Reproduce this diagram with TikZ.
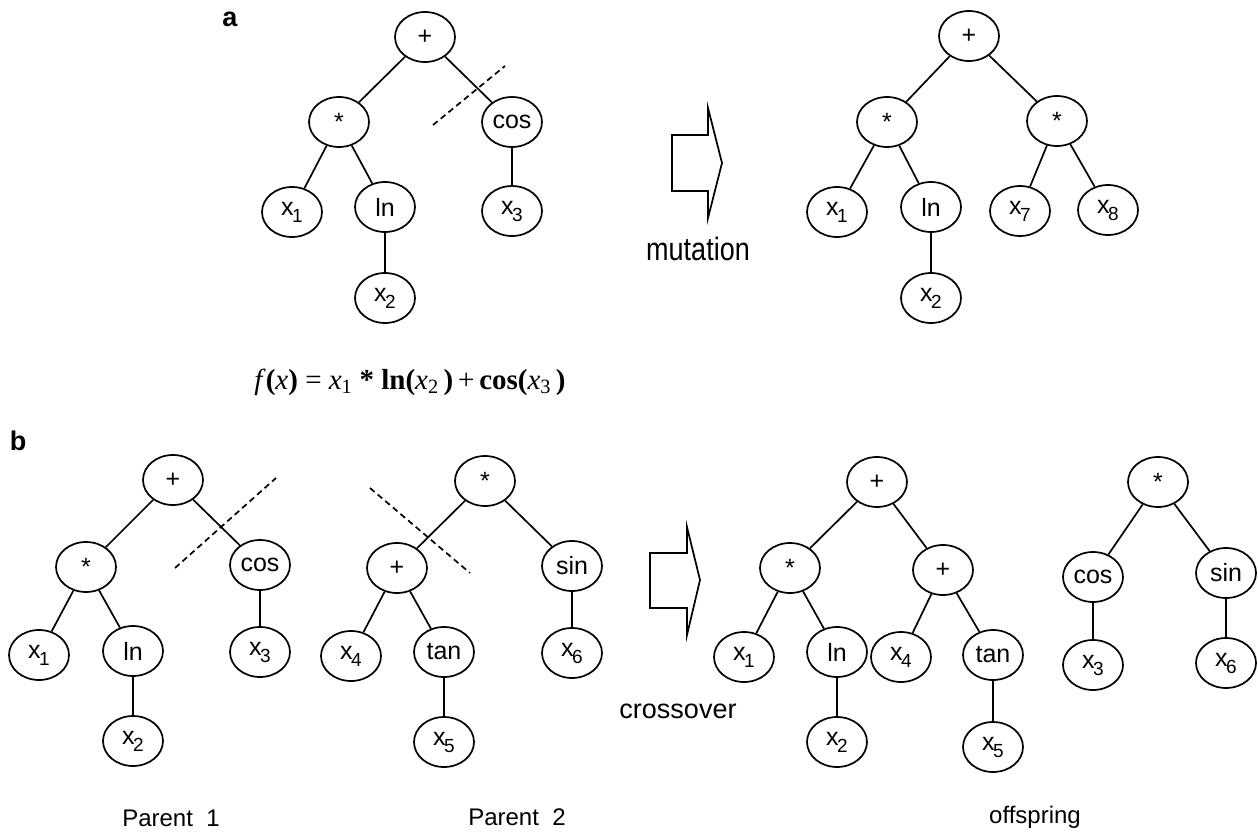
\documentclass[tikz,border=0pt]{standalone}
\usepackage{fontspec}
\setmainfont{Liberation Sans}
\newfontfamily\seriffont{Liberation Serif}
\usetikzlibrary{shapes.geometric}
\newcommand{\xs}[1]{x\kern-1.5pt\raisebox{-7pt}{\fontsize{19}{19}\selectfont #1}}
\tikzset{
  tn/.style={ellipse, draw, line width=1.7pt, minimum width=60pt, minimum height=50pt, inner sep=0pt, font=\fontsize{25}{28}\selectfont},
  ed/.style={line width=1.7pt},
  cut/.style={line width=1.7pt, dash pattern=on 6pt off 4pt},
  bigarrow/.style={line width=1.7pt, line join=miter},
  lbl/.style={font=\fontsize{24}{28}\selectfont, anchor=base},
  panel/.style={font=\fontsize{27}{30}\selectfont\bfseries},
  op/.style={font=\fontsize{27}{30}\selectfont}
}
\begin{document}
\begin{tikzpicture}[x=1pt,y=-1pt]
\useasboundingbox[fill=white] (0,0) rectangle (1258,832);

% ---------- panel a ----------
\node[panel] (la) at (230,19) {a};
% tree 1
\node[tn] (a1p) at (425,37) {+};
\node[tn] (a1m) at (339,122) {*};
\node[tn] (a1c) at (512,122) {cos};
\node[tn] (a1x1) at (292,212) {\xs{1}};
\node[tn] (a1ln) at (385,207) {ln};
\node[tn] (a1x3) at (512,211) {\xs{3}};
\node[tn] (a1x2) at (385,298) {\xs{2}};
\draw[ed] (a1p) -- (a1m);
\draw[ed] (a1p) -- (a1c);
\draw[ed] (a1m) -- (a1x1);
\draw[ed] (a1m) -- (a1ln);
\draw[ed] (a1ln) -- (a1x2);
\draw[ed] (a1c) -- (a1x3);
\coordinate (da1) at (433,125);
\coordinate (da2) at (505,66);
\draw[cut] (da1) -- (da2);

% arrow a
\draw[bigarrow] (672,135) -- (708,135) -- (708,108) -- (722,163) -- (708,218) -- (708,191) -- (672,191) -- cycle;
\node[op] (mut) at (698,249) {\scalebox{1}[1.2]{mutation}};

% tree 2
\node[tn] (a2p) at (969,36) {+};
\node[tn] (a2m) at (887,122) {*};
\node[tn] (a2m2) at (1057,121) {*};
\node[tn] (a2x1) at (837,212) {\xs{1}};
\node[tn] (a2ln) at (931,207) {ln};
\node[tn] (a2x2) at (931,298) {\xs{2}};
\node[tn] (a2x7) at (1020,211) {\xs{7}};
\node[tn] (a2x8) at (1108,210) {\xs{8}};
\draw[ed] (a2p) -- (a2m);
\draw[ed] (a2p) -- (a2m2);
\draw[ed] (a2m) -- (a2x1);
\draw[ed] (a2m) -- (a2ln);
\draw[ed] (a2ln) -- (a2x2);
\draw[ed] (a2m2) -- (a2x7);
\draw[ed] (a2m2) -- (a2x8);

% formula
\node (formula) at (410,382) {\seriffont\fontsize{29}{32}\selectfont
  \textit{f}\textbf{(}\textit{x}\textbf{)} = \textit{x}\textsubscript{1} \textbf{*} \textbf{ln(}\textit{x}\textsubscript{2}\,\textbf{)}\,+\,\textbf{cos(}\textit{x}\textsubscript{3}\,\textbf{)}};

% ---------- panel b ----------
\node[panel] (lb) at (18,441) {b};
% parent 1
\node[tn] (p1p) at (173,480) {+};
\node[tn] (p1m) at (86,567) {*};
\node[tn] (p1c) at (260,565) {cos};
\node[tn] (p1x1) at (39,655) {\xs{1}};
\node[tn] (p1ln) at (133,651) {ln};
\node[tn] (p1x3) at (260,652) {\xs{3}};
\node[tn] (p1x2) at (133,741) {\xs{2}};
\draw[ed] (p1p) -- (p1m);
\draw[ed] (p1p) -- (p1c);
\draw[ed] (p1m) -- (p1x1);
\draw[ed] (p1m) -- (p1ln);
\draw[ed] (p1ln) -- (p1x2);
\draw[ed] (p1c) -- (p1x3);
\coordinate (db1) at (175,568);
\coordinate (db2) at (276,478);
\draw[cut] (db1) -- (db2);
\node[lbl] (par1) at (171,826) {Parent\ \ 1};

% parent 2
\node[tn] (p2m) at (485,481) {*};
\node[tn] (p2p) at (397,568) {+};
\node[tn] (p2s) at (572,566) {sin};
\node[tn] (p2x4) at (351,656) {\xs{4}};
\node[tn] (p2t) at (444,652) {tan};
\node[tn] (p2x5) at (444,742) {\xs{5}};
\node[tn] (p2x6) at (572,653) {\xs{6}};
\draw[ed] (p2m) -- (p2p);
\draw[ed] (p2m) -- (p2s);
\draw[ed] (p2p) -- (p2x4);
\draw[ed] (p2p) -- (p2t);
\draw[ed] (p2t) -- (p2x5);
\draw[ed] (p2s) -- (p2x6);
\coordinate (dc1) at (370,488);
\coordinate (dc2) at (470,573);
\draw[cut] (dc1) -- (dc2);
\node[lbl] (par2) at (517,825) {Parent\ \ 2};

% arrow b
\draw[bigarrow] (650,553) -- (687,553) -- (687,527) -- (700,580) -- (687,635) -- (687,608) -- (650,608) -- cycle;
\node[op] (cross) at (678,711) {crossover};

% offspring 1
\node[tn] (o1p) at (877,482) {+};
\node[tn] (o1m) at (790,568) {*};
\node[tn] (o1p2) at (943,570) {+};
\node[tn] (o1x1) at (744,657) {\xs{1}};
\node[tn] (o1ln) at (837,652) {ln};
\node[tn] (o1x2) at (837,742) {\xs{2}};
\node[tn] (o1x4) at (901,657) {\xs{4}};
\node[tn] (o1t) at (993,655) {tan};
\node[tn] (o1x5) at (993,747) {\xs{5}};
\draw[ed] (o1p) -- (o1m);
\draw[ed] (o1p) -- (o1p2);
\draw[ed] (o1m) -- (o1x1);
\draw[ed] (o1m) -- (o1ln);
\draw[ed] (o1ln) -- (o1x2);
\draw[ed] (o1p2) -- (o1x4);
\draw[ed] (o1p2) -- (o1t);
\draw[ed] (o1t) -- (o1x5);

% offspring 2
\node[tn] (o2m) at (1158,482) {*};
\node[tn] (o2c) at (1093,577) {cos};
\node[tn] (o2s) at (1226,573) {sin};
\node[tn] (o2x3) at (1093,665) {\xs{3}};
\node[tn] (o2x6) at (1226,663) {\xs{6}};
\draw[ed] (o2m) -- (o2c);
\draw[ed] (o2m) -- (o2s);
\draw[ed] (o2c) -- (o2x3);
\draw[ed] (o2s) -- (o2x6);
\node[lbl] (offs) at (1035,823) {offspring};
\end{tikzpicture}
\end{document}
